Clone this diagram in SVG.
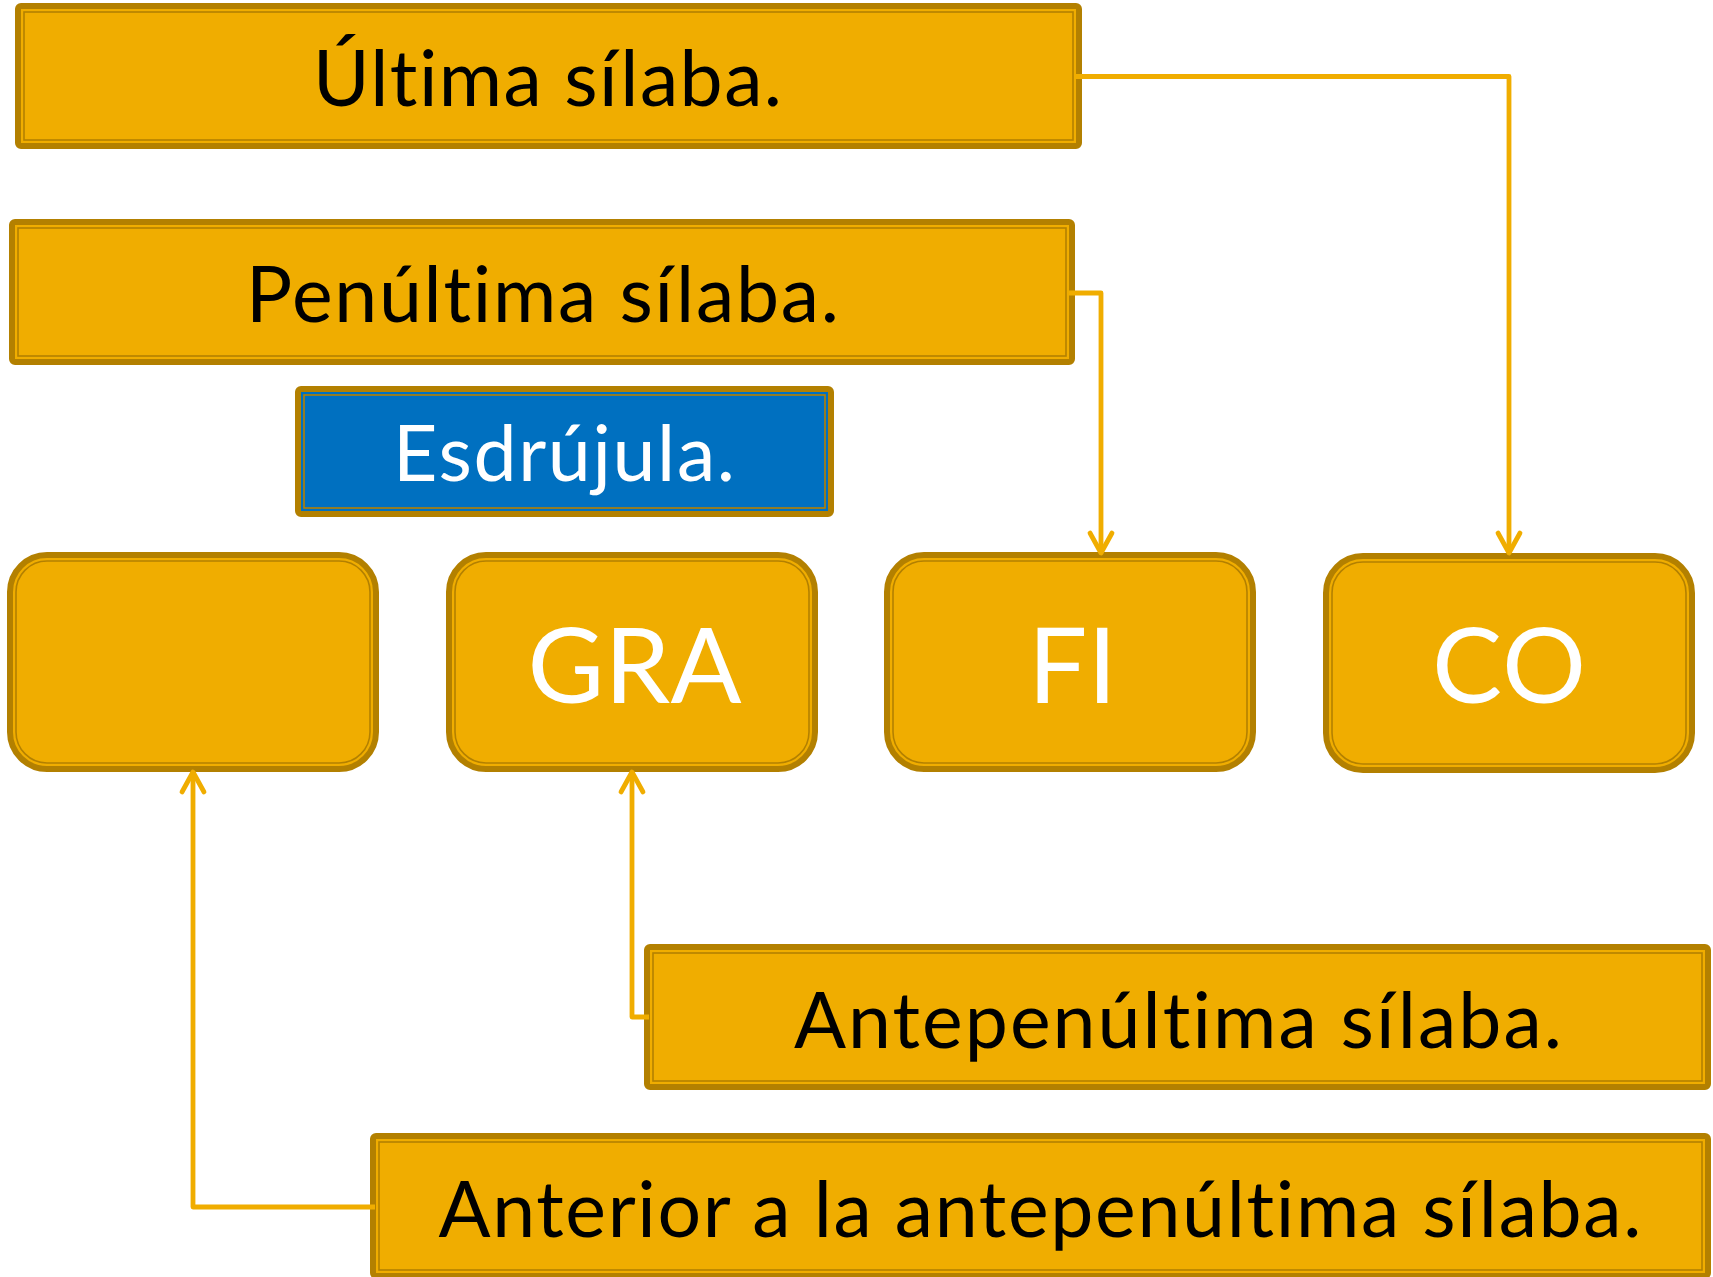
<svg xmlns="http://www.w3.org/2000/svg" width="1713" height="1277" viewBox="0 0 1713 1277">
<style>
text{font-variant-ligatures:none;font-feature-settings:"liga" 0,"dlig" 0,"clig" 0}
.outer{fill:#F0AD00;stroke:#B38000;stroke-width:6}
.inner{fill:none;stroke:#B38000;stroke-width:1.6}
.bouter{fill:#0070C0;stroke:#B38000;stroke-width:6}
.binner{fill:none;stroke:#B38000;stroke-width:1.6}
.t{font-family:Lato,"Open Sans",sans-serif;font-size:77px;fill:#000;text-anchor:middle}
.w{font-family:Lato,"Open Sans",sans-serif;font-size:77px;fill:#fff;text-anchor:middle}
.big{font-family:Lato,"Open Sans",sans-serif;font-size:105px;fill:#fff;text-anchor:middle;font-kerning:none}
.conn{fill:none;stroke:#F0AD00;stroke-width:4.8;stroke-linejoin:round}
</style>
<defs>
<marker id="arr" markerUnits="userSpaceOnUse" viewBox="-25 -15 30 30" refX="0" refY="0" markerWidth="30" markerHeight="30" orient="auto" overflow="visible">
<path d="M-20,-11 L0,0 L-20,11" fill="none" stroke="#F0AD00" stroke-width="4.8" stroke-linecap="round" stroke-linejoin="round"/>
</marker>
</defs>
<rect width="1713" height="1277" fill="#fff"/>

<g id="n-ultima">
<rect class="outer" x="18" y="6" width="1061" height="140" rx="3"/>
<rect class="inner" x="24" y="12" width="1049" height="128"/>
<text class="t" x="547.5" y="106" textLength="469" lengthAdjust="spacing">Última sílaba.</text>
</g>

<g id="n-penultima">
<rect class="outer" x="12" y="222" width="1060" height="140" rx="3"/>
<rect class="inner" x="18" y="228" width="1048" height="128"/>
<text class="t" x="542.5" y="322" textLength="593" lengthAdjust="spacing">Penúltima sílaba.</text>
</g>

<g id="n-esdrujula">
<rect class="bouter" x="298" y="389" width="533" height="125" rx="3"/>
<rect class="binner" x="304" y="395" width="521" height="113"/>
<text class="w" x="564" y="481" textLength="342" lengthAdjust="spacing">Esdrújula.</text>
</g>

<g id="n-box1">
<rect class="outer" x="10" y="555" width="366" height="214" rx="37"/>
<rect class="inner" x="16" y="561" width="354" height="202" rx="31"/>
</g>

<g id="n-gra">
<rect class="outer" x="449" y="555" width="366" height="214" rx="37"/>
<rect class="inner" x="455" y="561" width="354" height="202" rx="31"/>
<text class="big" x="634.5" y="703" textLength="214" lengthAdjust="spacing">GRA</text>
</g>

<g id="n-fi">
<rect class="outer" x="887" y="555" width="366" height="214" rx="37"/>
<rect class="inner" x="893" y="561" width="354" height="202" rx="31"/>
<text class="big" x="1072.5" y="703">FI</text>
</g>

<g id="n-co">
<rect class="outer" x="1326" y="556" width="366" height="214" rx="37"/>
<rect class="inner" x="1332" y="562" width="354" height="202" rx="31"/>
<text class="big" x="1509" y="703">CO</text>
</g>

<g id="n-antepenultima">
<rect class="outer" x="647" y="947" width="1061" height="140" rx="3"/>
<rect class="inner" x="653" y="953" width="1049" height="128"/>
<text class="t" x="1178" y="1048" textLength="768" lengthAdjust="spacing">Antepenúltima sílaba.</text>
</g>

<g id="n-anterior">
<rect class="outer" x="373" y="1136" width="1335" height="140" rx="3"/>
<rect class="inner" x="379" y="1142" width="1323" height="128"/>
<text class="t" x="1040" y="1237" textLength="1203" lengthAdjust="spacing">Anterior a la antepenúltima sílaba.</text>
</g>

<g id="connectors">
<path class="conn" d="M1075,76.5 H1509 V553" marker-end="url(#arr)"/>
<path class="conn" d="M1068,293 H1101 V553" marker-end="url(#arr)"/>
<path class="conn" d="M649,1017 H632 V772" marker-end="url(#arr)"/>
<path class="conn" d="M375,1207 H193 V772" marker-end="url(#arr)"/>
</g>
</svg>
